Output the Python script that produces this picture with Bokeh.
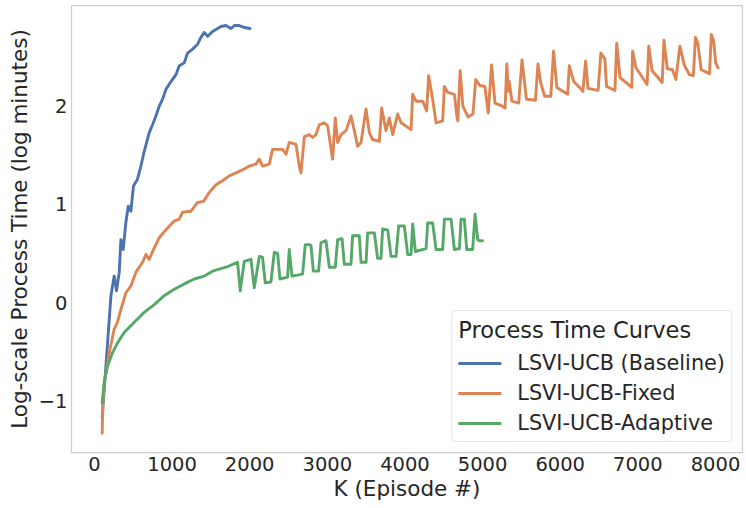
from bokeh.plotting import figure
from bokeh.models import Range1d, FixedTicker, Legend, LegendItem
from bokeh.embed import file_html
from bokeh.resources import INLINE

# ---- data ----
baseline_k = [100, 148, 213, 255, 285, 320, 341, 371, 406, 436, 470, 504, 552, 599, 642,
              706, 749, 792, 835, 878, 921, 986, 1050, 1093, 1157, 1200, 1264, 1329, 1372,
              1415, 1458, 1522, 1566, 1630, 1695, 1759, 1802, 1866, 1930, 2004]
baseline_t = [-1.17, -0.65, 0.07, 0.27, 0.12, 0.31, 0.64, 0.54, 0.82, 0.98, 0.93, 1.19, 1.25, 1.39, 1.54,
              1.73, 1.81, 1.90, 2.00, 2.07, 2.17, 2.25, 2.32, 2.41, 2.44, 2.54, 2.58, 2.63, 2.70,
              2.75, 2.71, 2.76, 2.78, 2.81, 2.82, 2.79, 2.82, 2.82, 2.80, 2.79]

fixed_k = [100, 110, 135, 191, 255, 298, 341, 406, 470, 535, 620, 664, 706, 749, 835, 942,
           1028, 1093, 1135, 1244, 1329, 1406, 1479, 1566, 1651, 1737, 1823, 1930, 1995, 2081,
           2124, 2166, 2253, 2295, 2424, 2468, 2510, 2597, 2639, 2661, 2704, 2768, 2811, 2854,
           2897, 2961, 3004, 3068, 3103, 3133, 3177, 3241, 3305, 3348, 3391, 3434, 3499, 3541,
           3584, 3670, 3700, 3756, 3799, 3842, 3906, 3950, 4079, 4100, 4143, 4229, 4280, 4305,
           4357, 4401, 4486, 4508, 4551, 4637, 4668, 4681, 4711, 4746, 4812, 4876, 4912, 4964,
           5030, 5073, 5116, 5160, 5225, 5290, 5312, 5332, 5343, 5378, 5465, 5508, 5565, 5682,
           5713, 5748, 5800, 5879, 5914, 5957, 6096, 6117, 6174, 6249, 6292, 6327, 6358, 6488,
           6523, 6575, 6597, 6705, 6727, 6771, 6923, 6932, 6976, 7119, 7141, 7184, 7314, 7336,
           7380, 7446, 7490, 7541, 7598, 7663, 7715, 7742, 7772, 7816, 7924, 7946, 7977, 8003, 8034]
fixed_t = [-1.33, -1.00, -0.78, -0.51, -0.27, -0.20, -0.07, 0.10, 0.17, 0.31, 0.41, 0.49, 0.44, 0.52, 0.66, 0.76,
           0.83, 0.85, 0.92, 0.93, 1.02, 1.03, 1.12, 1.20, 1.24, 1.29, 1.32, 1.36, 1.39, 1.41,
           1.46, 1.39, 1.41, 1.56, 1.56, 1.51, 1.63, 1.61, 1.39, 1.32, 1.69, 1.71, 1.68, 1.71,
           1.81, 1.83, 1.80, 1.46, 1.88, 1.63, 1.71, 1.75, 1.90, 1.75, 1.59, 1.63, 1.97, 1.73,
           1.66, 1.64, 1.98, 1.75, 1.88, 1.71, 1.92, 1.83, 1.76, 2.12, 2.05, 2.05, 1.95, 2.31,
           2.07, 1.83, 1.85, 2.20, 2.14, 2.12, 1.90, 1.85, 2.36, 2.00, 1.89, 1.92, 2.27, 2.21,
           2.20, 1.93, 2.42, 2.03, 2.01, 1.98, 2.43, 2.15, 2.25, 2.05, 2.03, 2.47, 2.07, 2.06,
           2.43, 2.24, 2.10, 2.10, 2.56, 2.19, 2.12, 2.41, 2.25, 2.19, 2.15, 2.46, 2.18, 2.16,
           2.54, 2.48, 2.20, 2.16, 2.64, 2.29, 2.19, 2.56, 2.39, 2.22, 2.61, 2.36, 2.24, 2.67,
           2.38, 2.37, 2.27, 2.61, 2.42, 2.32, 2.31, 2.70, 2.64, 2.37, 2.33, 2.73, 2.66, 2.44, 2.39]

adaptive_k = [100, 126, 169, 233, 298, 384, 513, 642, 771, 899, 1028, 1157, 1286, 1415, 1522,
              1694, 1844, 1879, 1930, 2017, 2059, 2124, 2166, 2201, 2274, 2317, 2360, 2390, 2488,
              2510, 2545, 2682, 2716, 2768, 2790, 2820, 2888, 2919, 2983, 3026, 3103, 3133, 3190,
              3219, 3305, 3326, 3412, 3434, 3499, 3519, 3606, 3648, 3691, 3713, 3778, 3821, 3885,
              3919, 3992, 4035, 4079, 4100, 4134, 4272, 4293, 4357, 4401, 4486, 4508, 4594, 4637,
              4701, 4723, 4765, 4796, 4872, 4903, 4937, 4959, 5000]
adaptive_t = [-1.02, -0.81, -0.645, -0.51, -0.41, -0.305, -0.20, -0.10, -0.02, 0.07, 0.135, 0.19, 0.24, 0.27, 0.32,
              0.36, 0.41, 0.12, 0.42, 0.44, 0.15, 0.47, 0.46, 0.20, 0.21, 0.51, 0.50, 0.24, 0.26,
              0.54, 0.27, 0.29, 0.59, 0.59, 0.58, 0.32, 0.32, 0.61, 0.63, 0.36, 0.36, 0.64, 0.65,
              0.39, 0.39, 0.68, 0.68, 0.41, 0.41, 0.71, 0.71, 0.45, 0.45, 0.75, 0.74, 0.47, 0.47,
              0.78, 0.78, 0.49, 0.49, 0.80, 0.52, 0.55, 0.81, 0.81, 0.54, 0.54, 0.85, 0.85, 0.54,
              0.55, 0.85, 0.85, 0.54, 0.54, 0.90, 0.64, 0.63, 0.63]

series_names = ["LSVI-UCB (Baseline)", "LSVI-UCB-Fixed", "LSVI-UCB-Adaptive"]
series_colors = ["#4c72b0", "#dd8452", "#55a868"]
legend_title = "Process Time Curves"

x_ticks = [0, 1000, 2000, 3000, 4000, 5000, 6000, 7000, 8000]
y_ticks = [-1, 0, 1, 2]
y_tick_labels = {-1: "\u22121", 0: "0", 1: "1", 2: "2"}

x_label = "K (Episode #)"
y_label = "Log-scale Process Time (log minutes)"

FONT = "DejaVu Sans"
TXT = "#262626"

p = figure(frame_width=671, frame_height=447, output_backend="svg", toolbar_location=None,
           x_range=Range1d(-295, 8348), y_range=Range1d(-1.526, 3.024),
           min_border_left=71, min_border_right=1, min_border_top=5, min_border_bottom=54,
           background_fill_color="white", border_fill_color="white")

p.outline_line_color = "#cccccc"
p.outline_line_width = 1.25
p.grid.visible = False

for ax in (p.xaxis[0], p.yaxis[0]):
    ax.axis_line_color = None
    ax.major_tick_line_color = None
    ax.minor_tick_line_color = None
    ax.major_tick_out = 0
    ax.major_tick_in = 0
    ax.minor_tick_out = 0
    ax.minor_tick_in = 0
    ax.major_label_text_font = FONT
    ax.major_label_text_font_size = "19.5px"
    ax.major_label_text_color = TXT
    ax.axis_label_text_font = FONT
    ax.axis_label_text_font_size = "21.5px"
    ax.axis_label_text_font_style = "normal"
    ax.axis_label_text_color = TXT

p.xaxis.ticker = FixedTicker(ticks=x_ticks)
p.yaxis.ticker = FixedTicker(ticks=y_ticks)
p.yaxis.major_label_overrides = y_tick_labels
p.xaxis.axis_label = x_label
p.yaxis.axis_label = y_label
p.xaxis.major_label_standoff = 4
p.xaxis.axis_label_standoff = 2
p.yaxis.major_label_standoff = 4
p.yaxis.axis_label_standoff = 4

data = [(baseline_k, baseline_t), (fixed_k, fixed_t), (adaptive_k, adaptive_t)]
items = []
for (k, t), name, col in zip(data, series_names, series_colors):
    r = p.line(k, t, line_width=2.9, line_color=col, line_join="round", line_cap="round")
    items.append(LegendItem(label=name, renderers=[r]))

legend = Legend(items=items, location="bottom_right", title=legend_title,
                label_text_font=FONT, label_text_font_size="20.8px", label_text_color=TXT,
                title_text_font=FONT, title_text_font_size="22.5px", title_text_color=TXT,
                title_text_font_style="normal",
                border_line_color="#cccccc", border_line_width=1, border_radius=4,
                background_fill_color="white", background_fill_alpha=0.8,
                padding=6, spacing=6, margin=10, glyph_width=43, glyph_height=20,
                label_standoff=16, title_standoff=8, label_height=20)
p.add_layout(legend)

open("out.html", "w").write(file_html(p, INLINE))
